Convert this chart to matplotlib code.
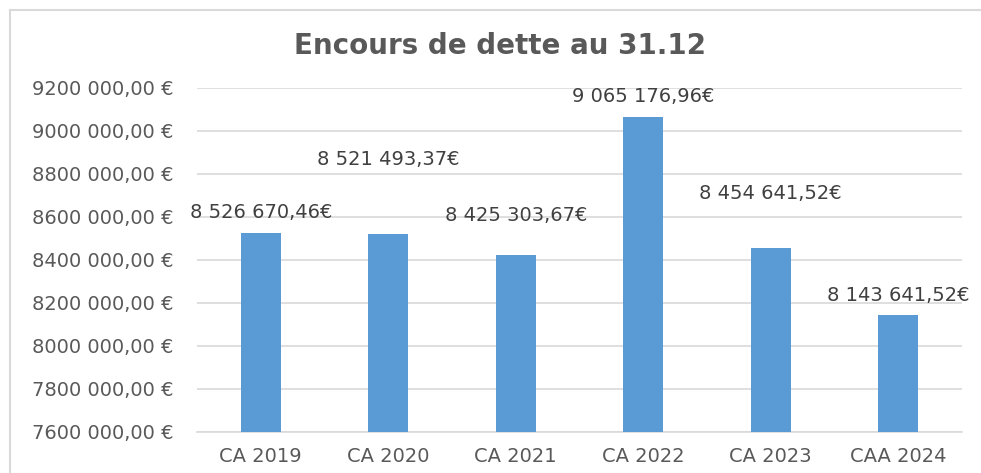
import matplotlib
matplotlib.use("Agg")
import matplotlib.pyplot as plt
from matplotlib.lines import Line2D
from matplotlib.ticker import FuncFormatter, MultipleLocator

# --- Data ---
categories = ["CA 2019", "CA 2020", "CA 2021", "CA 2022", "CA 2023", "CAA 2024"]
values = [8526670.46, 8521493.37, 8425303.67, 9065176.96, 8454641.52, 8143641.52]
# label offsets above bar tops (pixels), labels were moved by hand in the original
label_offsets = [20, 74, 39, 20, 55, 20]

BAR_COLOR = "#5B9BD5"
GRID_COLOR = "#D9D9D9"
TEXT_COLOR = "#595959"
LABEL_COLOR = "#404040"
FONT = "DejaVu Sans"


def fmt_label(v):
    s = f"{v:,.2f}"  # 8,526,670.46
    return s.replace(",", " ").replace(".", ",") + "€"


def fmt_tick(v, pos):
    v = int(round(v))
    return f"{v // 1000} {v % 1000:03d},00 €"


fig = plt.figure(figsize=(9.81, 4.73), dpi=100)
fig.patch.set_facecolor("white")

# chart frame: only top and left edges are inside the screenshot
fx, fy = 10 / 981, 1 - 10 / 473
fig.add_artist(Line2D([fx, 1.0], [fy, fy], transform=fig.transFigure,
                      color=GRID_COLOR, lw=1.5))
fig.add_artist(Line2D([fx, fx], [0.0, fy], transform=fig.transFigure,
                      color=GRID_COLOR, lw=1.5))

ax = fig.add_axes([197 / 981, 1 - 432 / 473, (962 - 197) / 981, (432 - 88) / 473])

x = range(len(categories))
ax.bar(x, values, width=0.31, color=BAR_COLOR, zorder=3)

ax.set_ylim(7600000, 9200000)
ax.set_xlim(-0.5, len(categories) - 0.5)
ax.yaxis.set_major_locator(MultipleLocator(200000))
ax.yaxis.set_major_formatter(FuncFormatter(fmt_tick))
ax.grid(axis="y", color=GRID_COLOR, lw=1.2, zorder=0)
ax.set_xticks(list(x))
ax.set_xticklabels(categories)

for s in ["top", "right", "left"]:
    ax.spines[s].set_visible(False)
ax.spines["bottom"].set_color(GRID_COLOR)
ax.spines["bottom"].set_linewidth(1.2)
ax.tick_params(axis="both", length=0, colors=TEXT_COLOR, labelsize=14)
ax.tick_params(axis="y", pad=17)
ax.tick_params(axis="x", pad=11)
for lab in ax.get_xticklabels() + ax.get_yticklabels():
    lab.set_family(FONT)

for i, v in enumerate(values):
    ax.annotate(fmt_label(v), (i, v), xytext=(0, label_offsets[i] * 0.72),
                textcoords="offset points", ha="center", va="center",
                fontsize=14, color=LABEL_COLOR, family=FONT)

fig.text(500 / 981, 1 - 45.5 / 473, "Encours de dette au 31.12", ha="center",
         va="center", fontsize=20, fontweight="bold", color=TEXT_COLOR,
         family=FONT)

fig.savefig("out.png", dpi=100)
